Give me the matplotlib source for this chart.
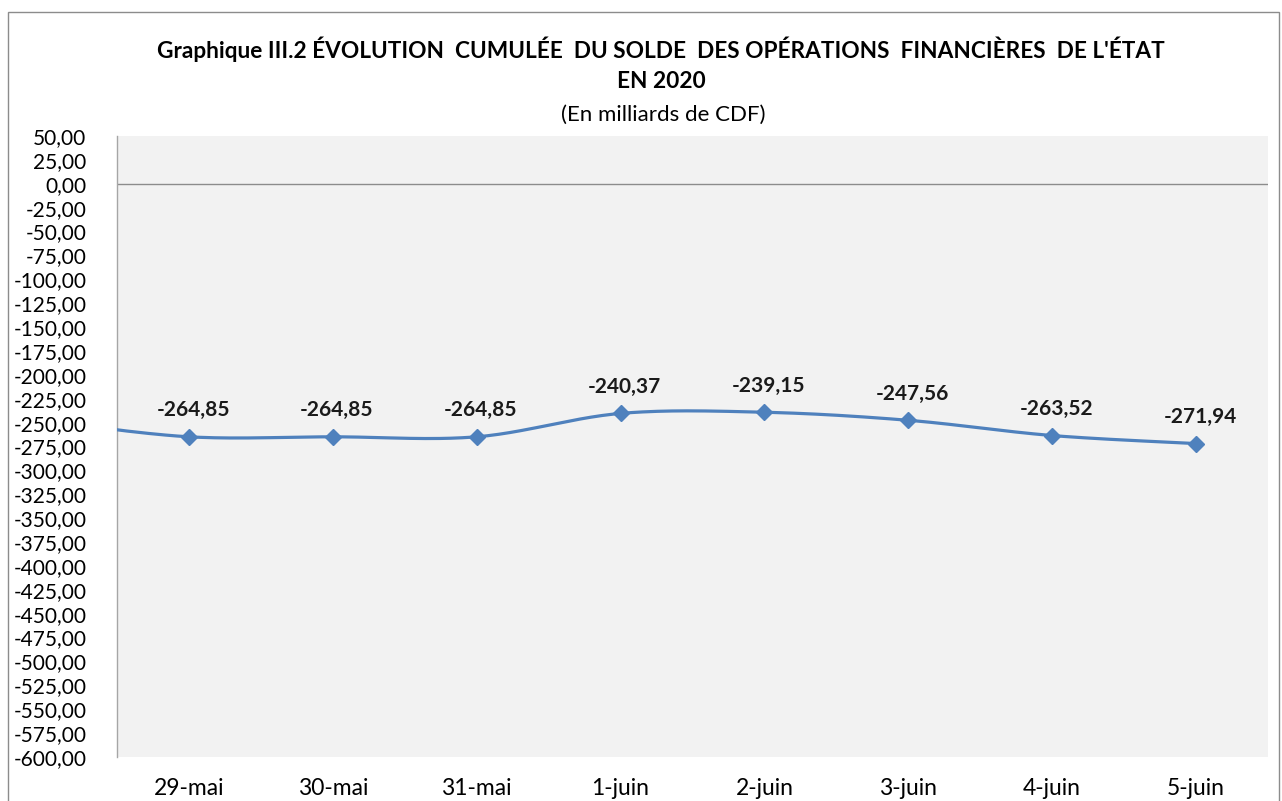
import matplotlib.pyplot as plt
import matplotlib.patches as patches
import numpy as np

plt.rcParams['font.family'] = ['Lato', 'DejaVu Sans']

# data
categories = ['29-mai', '30-mai', '31-mai', '1-juin', '2-juin', '3-juin', '4-juin', '5-juin']
values = [-264.85, -264.85, -264.85, -240.37, -239.15, -247.56, -263.52, -271.94]
prev_value = -248.0  # previous day, only its segment is visible at the left edge
y_ticks = np.arange(-600, 51, 25)

LINE_COLOR = '#4f81bd'


def smooth(xs, ys, n=40):
    """Excel-like smoothed line (Catmull-Rom as cubic Bezier)."""
    xs = np.asarray(xs, float)
    ys = np.asarray(ys, float)
    px = np.concatenate([[xs[0]], xs, [xs[-1]]])
    py = np.concatenate([[ys[0]], ys, [ys[-1]]])
    out_x, out_y = [], []
    t = np.linspace(0, 1, n)
    for i in range(1, len(px) - 2):
        p0 = np.array([px[i], py[i]])
        p3 = np.array([px[i + 1], py[i + 1]])
        c1 = p0 + (np.array([px[i + 1], py[i + 1]]) - np.array([px[i - 1], py[i - 1]])) / 6
        c2 = p3 - (np.array([px[i + 2], py[i + 2]]) - np.array([px[i], py[i]])) / 6
        b = ((1 - t) ** 3)[:, None] * p0 + (3 * (1 - t) ** 2 * t)[:, None] * c1 \
            + (3 * (1 - t) * t ** 2)[:, None] * c2 + (t ** 3)[:, None] * p3
        out_x.extend(b[:, 0])
        out_y.extend(b[:, 1])
    return np.array(out_x), np.array(out_y)


def fmt(v):
    return f"{v:.2f}".replace('.', ',')


fig = plt.figure(figsize=(12.82, 8.01), dpi=100)
ax = fig.add_axes([117 / 1282, 44 / 801, 1151 / 1282, 621 / 801])
ax.set_facecolor('#f2f2f2')

x = np.arange(len(categories))
all_x = np.concatenate([[-1], x])
all_y = np.concatenate([[prev_value], values])
sx, sy = smooth(all_x, all_y)
ax.plot(sx, sy, color=LINE_COLOR, linewidth=2.3, solid_capstyle='round', zorder=3)
ax.plot(x, values, linestyle='none', marker='D', markersize=8.5,
        color=LINE_COLOR, zorder=4)

for xi, v in zip(x, values):
    ax.annotate(fmt(v), (xi, v), xytext=(3, 19), textcoords='offset points',
                ha='center', va='center', fontsize=15, fontweight='bold', color='#1a1a1a')

ax.axhline(0, color='#8c8c8c', linewidth=1, zorder=2)

ax.set_xlim(-0.5, len(categories) - 0.5)
ax.set_ylim(-600, 50)
ax.set_yticks(y_ticks)
ax.set_yticklabels([fmt(v) for v in y_ticks], fontsize=15)
ax.set_xticks(x)
ax.set_xticklabels(categories, fontsize=16.5)
ax.tick_params(axis='y', length=0, pad=22)
ax.tick_params(axis='x', length=0, pad=15)

for side in ['top', 'right', 'bottom']:
    ax.spines[side].set_visible(False)
ax.spines['left'].set_color('#a6a6a6')
ax.spines['left'].set_linewidth(1)

fig.text(661 / 1282, 1 - 49 / 801,
         "Graphique III.2 ÉVOLUTION  CUMULÉE  DU SOLDE  DES OPÉRATIONS  FINANCIÈRES  DE L'ÉTAT",
         ha='center', va='center', fontsize=16.3, fontweight='bold')
fig.text(661 / 1282, 1 - 81 / 801, "EN 2020",
         ha='center', va='center', fontsize=16.3, fontweight='bold')
fig.text(663 / 1282, 1 - 115 / 801, "(En milliards de CDF)",
         ha='center', va='center', fontsize=16)

# outer chart frame
fig.patches.append(patches.Rectangle((8 / 1282, -0.05), 1271 / 1282, 1.05 - 12 / 801,
                                     transform=fig.transFigure, fill=False,
                                     edgecolor='#8c8c8c', linewidth=1))

fig.savefig('out.png', dpi=100)
